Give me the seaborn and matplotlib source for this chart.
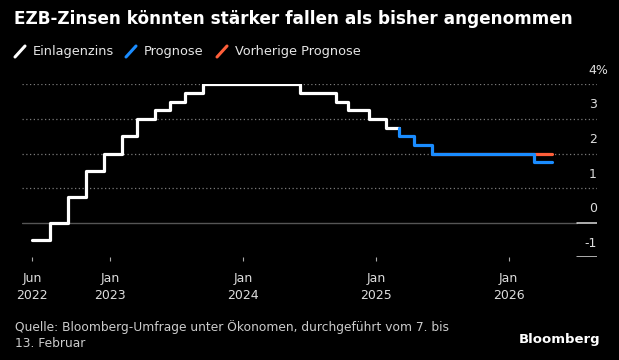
import pandas as pd
import matplotlib
matplotlib.use('Agg')
import matplotlib.pyplot as plt
import matplotlib.transforms as mtrans
from matplotlib.lines import Line2D
import seaborn as sns

# data
actual_dates = ['2022-06-01', '2022-07-21', '2022-09-08', '2022-10-27', '2022-12-15',
                '2023-02-02', '2023-03-16', '2023-05-04', '2023-06-15', '2023-07-27',
                '2023-09-14', '2024-06-06', '2024-09-12', '2024-10-17', '2024-12-12',
                '2025-01-30', '2025-03-06']
actual_rates = [-0.5, 0.0, 0.75, 1.5, 2.0, 2.5, 3.0, 3.25, 3.5, 3.75,
                4.0, 3.75, 3.5, 3.25, 3.0, 2.75, 2.75]

forecast_dates = ['2025-03-06', '2025-04-17', '2025-06-05', '2026-03-12', '2026-04-30']
forecast_rates = [2.75, 2.5, 2.25, 2.0, 1.75]

prev_dates = ['2025-06-05', '2026-04-30']
prev_rates = [2.0, 2.0]

y_ticks = [-1, 0, 1, 2, 3, 4]
y_labels = ['-1', '0', '1', '2', '3', '4%']
x_ticks = ['2022-06-01', '2023-01-01', '2024-01-01', '2025-01-01', '2026-01-01']
x_labels = ['Jun\n2022', 'Jan\n2023', 'Jan\n2024', 'Jan\n2025', 'Jan\n2026']

legend_names = ['Einlagenzins', 'Prognose', 'Vorherige Prognose']
c_white, c_blue, c_orange = '#ffffff', '#1a8cff', '#ff5f3a'

df_act = pd.DataFrame({'date': pd.to_datetime(actual_dates), 'rate': actual_rates})
df_fc = pd.DataFrame({'date': pd.to_datetime(forecast_dates), 'rate': forecast_rates})
df_prev = pd.DataFrame({'date': pd.to_datetime(prev_dates), 'rate': prev_rates})

sns.set_theme(style='dark', rc={'axes.facecolor': 'black', 'figure.facecolor': 'black'})
plt.rcParams['font.family'] = ['DejaVu Sans']

W, H = 619, 360
fig = plt.figure(figsize=(W / 100, H / 100), dpi=100)
ax = fig.add_axes([22 / W, 1 - 257.3 / H, (597 - 22) / W, (257.3 - 84.3) / H])

# grid
for y in [1, 2, 3, 4]:
    ax.axhline(y, color='#7a7a7a', lw=0.9, linestyle=(0, (1, 2)), zorder=1)
ax.axhline(0, xmax=0.965, color='#555555', lw=1.0, zorder=1)
ax.axhline(0, xmin=0.965, xmax=1, color='#dddddd', lw=1.1, zorder=1)
ax.axhline(-1, xmin=0.965, xmax=1, color='#dddddd', lw=1.1, zorder=1)

# lines
sns.lineplot(data=df_act, x='date', y='rate', ax=ax, color=c_white, lw=2.3,
             drawstyle='steps-post', zorder=3)
sns.lineplot(data=df_prev, x='date', y='rate', ax=ax, color=c_orange, lw=2.3,
             drawstyle='steps-post', zorder=3)
sns.lineplot(data=df_fc, x='date', y='rate', ax=ax, color=c_blue, lw=2.3,
             drawstyle='steps-pre', zorder=4)

ax.set_xlim(pd.Timestamp('2022-05-04'), pd.Timestamp('2026-09-01'))
ax.set_ylim(-1, 4)
ax.set_xlabel('')
ax.set_ylabel('')
ax.set_yticks([])
ax.set_xticks(pd.to_datetime(x_ticks))
ax.set_xticklabels(x_labels, color='#dddddd', fontsize=9, linespacing=1.4)
ax.tick_params(axis='x', length=3, width=0.8, color='#aaaaaa', pad=7.5, bottom=True)
ax.grid(False)
for s in ax.spines.values():
    s.set_visible(False)

# y labels above gridlines, right side
trans = mtrans.blended_transform_factory(ax.transAxes, ax.transData)
for y, lab in zip(y_ticks, y_labels):
    if lab.endswith('%'):
        t = mtrans.offset_copy(trans, fig=fig, x=-9, y=14, units='dots')
        ax.text(1.0, y, lab, transform=t, ha='left', va='center', color='#dddddd',
                fontsize=9, clip_on=False)
    else:
        t = mtrans.offset_copy(trans, fig=fig, x=0, y=14, units='dots')
        ax.text(1.0, y, lab, transform=t, ha='right', va='center', color='#dddddd',
                fontsize=9, clip_on=False)

# title
fig.text(14 / W, 1 - 19 / H, 'EZB-Zinsen könnten stärker fallen als bisher angenommen',
         color='white', fontsize=12.2, fontweight='bold', ha='left', va='center')

# legend with slashes
leg_items = [(15, 33, c_white, legend_names[0]),
             (126, 144, c_blue, legend_names[1]),
             (217, 235, c_orange, legend_names[2])]
for x0, xt, col, name in leg_items:
    fig.add_artist(Line2D([x0 / W, (x0 + 10) / W], [1 - 57 / H, 1 - 46 / H],
                          color=col, lw=2.2, transform=fig.transFigure))
    fig.text(xt / W, 1 - 51 / H, name, color='#e6e6e6', fontsize=9.3,
             ha='left', va='center')

# source and logo
fig.text(15 / W, 1 - 335 / H,
         'Quelle: Bloomberg-Umfrage unter Ökonomen, durchgeführt vom 7. bis\n13. Februar',
         color='#cccccc', fontsize=8.8, ha='left', va='center', linespacing=1.3)
fig.text(600 / W, 1 - 339 / H, 'Bloomberg', color='white', fontsize=9.5,
         fontweight='bold', ha='right', va='center')

fig.savefig('out.png', dpi=100, facecolor='black')
